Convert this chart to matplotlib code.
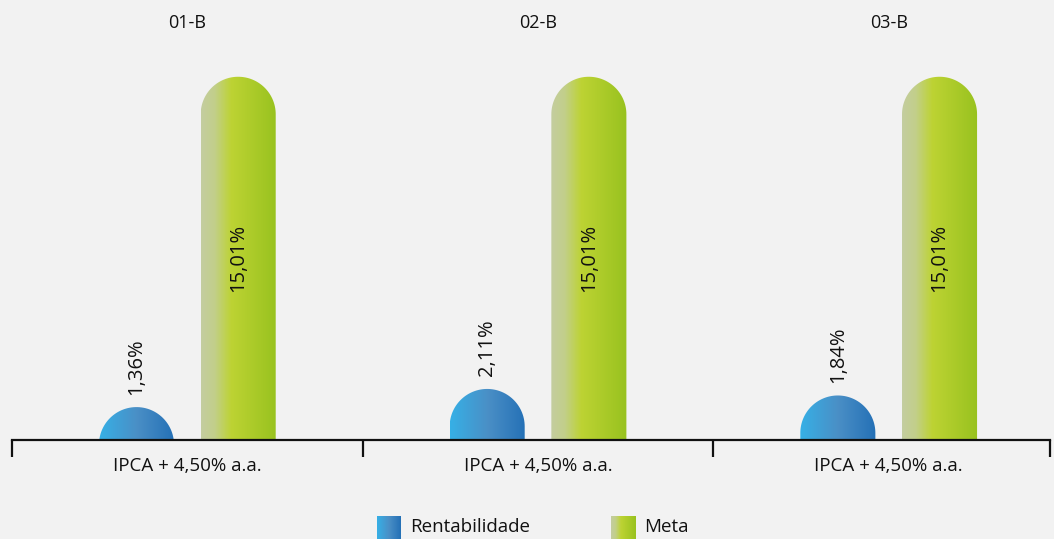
import numpy as np
import matplotlib
matplotlib.use("Agg")
import matplotlib.pyplot as plt
from matplotlib.colors import LinearSegmentedColormap
from matplotlib.path import Path
from matplotlib.patches import PathPatch

# data
groups = ["01-B", "02-B", "03-B"]
benchmarks = ["IPCA + 4,50% a.a.", "IPCA + 4,50% a.a.", "IPCA + 4,50% a.a."]
rentabilidade = [1.36, 2.11, 1.84]
meta = [15.01, 15.01, 15.01]
series_names = ["Rentabilidade", "Meta"]

plt.rcParams["font.family"] = ["Open Sans", "DejaVu Sans"]
BG = "#f2f2f2"
TXT = "#111111"

blue_cmap = LinearSegmentedColormap.from_list("blue", ["#36b0e6", "#4a8fc6", "#2470b6"])
green_cmap = LinearSegmentedColormap.from_list(
    "green", [(0, "#c4cda0"), (0.18, "#c2cf8a"), (0.4, "#bdd333"), (1, "#98c21f")])

W, H = 1054, 539
fig = plt.figure(figsize=(W / 100, H / 100), dpi=100, facecolor=BG)
ax = fig.add_axes([12 / W, 99 / H, 1038 / W, 400 / H])
ax.set_facecolor(BG)
ymax = 400 / 24.2
ax.set_xlim(-0.5, 2.46)
ax.set_ylim(0, ymax)

x = np.arange(len(groups))
width = 0.214
off = 0.145

bars_r = ax.bar(x - off, rentabilidade, width, color="none")
bars_m = ax.bar(x + off, meta, width, color="none")

bb = ax.get_window_extent()
px_x = bb.width / (ax.get_xlim()[1] - ax.get_xlim()[0])
px_y = bb.height / (ax.get_ylim()[1] - ax.get_ylim()[0])

grad = np.linspace(0, 1, 256).reshape(1, -1)


def capsule(rect, cmap):
    # bar with a round top, filled with a left-to-right gradient
    x0 = rect.get_x()
    w = rect.get_width()
    h = rect.get_height()
    rx = w / 2
    ry = rx * px_x / px_y
    cx = x0 + rx
    cy = h - ry
    base = min(0, cy)
    t = np.linspace(np.pi, 0, 60)
    verts = [(x0, base), (x0, cy)]
    verts += list(zip(cx + rx * np.cos(t), cy + ry * np.sin(t)))
    verts += [(x0 + w, base), (x0, base)]
    codes = [Path.MOVETO] + [Path.LINETO] * (len(verts) - 2) + [Path.CLOSEPOLY]
    patch = PathPatch(Path(verts, codes), facecolor="none", edgecolor="none")
    ax.add_patch(patch)
    im = ax.imshow(grad, cmap=cmap, extent=(x0, x0 + w, 0, h), aspect="auto",
                   interpolation="bicubic", zorder=2)
    im.set_clip_path(patch)


def pct(v):
    return f"{v:.2f}%".replace(".", ",")


for r in bars_r:
    capsule(r, blue_cmap)
    ax.annotate(pct(r.get_height()),
                (r.get_x() + r.get_width() / 2, r.get_height()),
                xytext=(0, 9), textcoords="offset points", rotation=90,
                ha="center", va="bottom", fontsize=14.5, color=TXT)
for r in bars_m:
    capsule(r, green_cmap)
    ax.text(r.get_x() + r.get_width() / 2, r.get_height() / 2,
            pct(r.get_height()), rotation=90,
            ha="center", va="center", fontsize=14.5, color=TXT, zorder=3)

for i, g in enumerate(groups):
    ax.text(i, 1 + 17 / 400, g, transform=ax.get_xaxis_transform(),
            ha="center", va="center", fontsize=13, color=TXT)

for s in ["top", "right", "left"]:
    ax.spines[s].set_visible(False)
ax.spines["bottom"].set_linewidth(1.6)
ax.spines["bottom"].set_color(TXT)
ax.set_yticks([])
ax.set_xticks(x)
ax.set_xticklabels(benchmarks, fontsize=13.5, color=TXT)
ax.tick_params(axis="x", which="major", length=0, pad=12)
ax.set_xticks([-0.5, 0.5, 1.5, 2.46], minor=True)
ax.tick_params(axis="x", which="minor", length=12, width=1.6, color=TXT)

# legend
cmaps = [blue_cmap, green_cmap]
sq_x = [377, 611]
for name, cm, sx in zip(series_names, cmaps, sq_x):
    lax = fig.add_axes([sx / W, 0, 24 / W, 23 / H])
    lax.imshow(grad, cmap=cm, aspect="auto", interpolation="bicubic")
    lax.axis("off")
    fig.text((sx + 33) / W, 1 - 527 / H, name, ha="left", va="center",
             fontsize=13.5, color=TXT)

fig.savefig("out.png", dpi=100, facecolor=BG)
